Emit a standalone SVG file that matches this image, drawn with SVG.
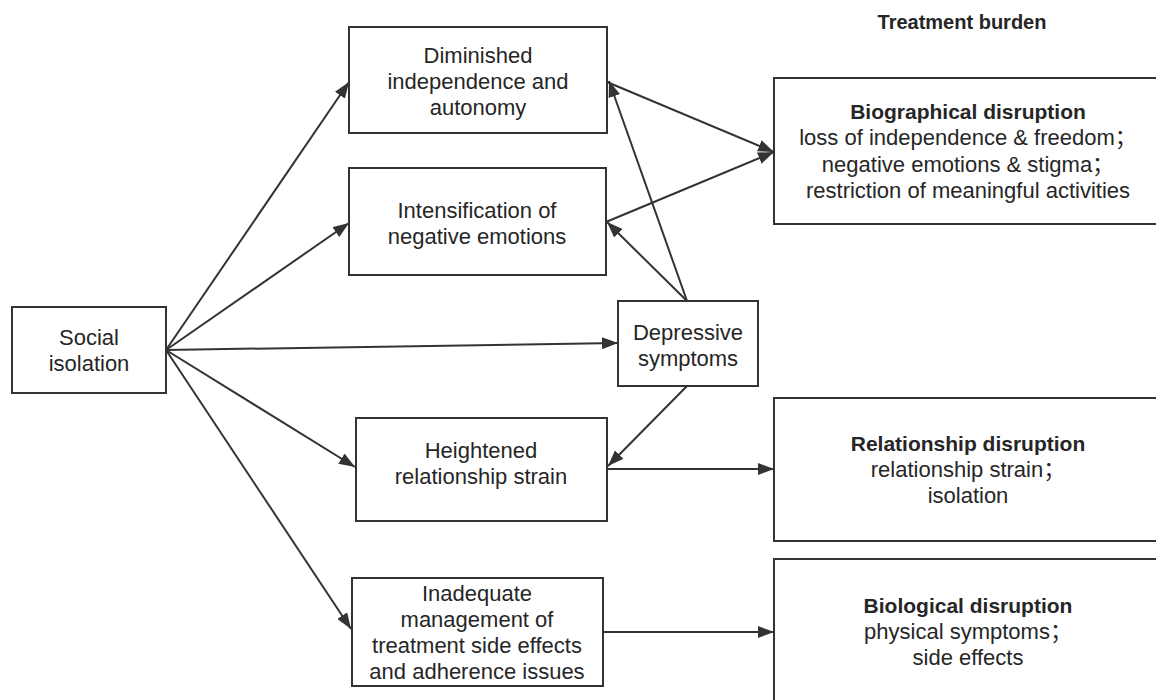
<svg xmlns="http://www.w3.org/2000/svg" width="1156" height="700" viewBox="0 0 1156 700">
<style>
.box{fill:#fff;stroke:#333;stroke-width:2}
.t{font-family:"Liberation Sans","Noto Sans CJK SC",sans-serif;font-size:22px;fill:#262626;text-anchor:middle}
.b{font-weight:bold;font-size:21px}
.c{stroke:#333;stroke-width:2;fill:none;marker-end:url(#ah)}
</style>
<defs>
<marker id="ah" markerUnits="userSpaceOnUse" markerWidth="16" markerHeight="12" refX="16" refY="6" orient="auto">
<path d="M0,0 L16,6 L0,12 z" fill="#333"/>
</marker>
</defs>
<rect width="1156" height="700" fill="#fff"/>
<g id="connectors">
<line class="c" x1="166" y1="350" x2="349" y2="82"/>
<line class="c" x1="166" y1="350" x2="349" y2="223"/>
<line class="c" x1="166" y1="350" x2="618" y2="343"/>
<line class="c" x1="166" y1="350" x2="355" y2="467"/>
<line class="c" x1="166" y1="350" x2="351" y2="629"/>
<line class="c" x1="607" y1="82" x2="774" y2="152"/>
<line class="c" x1="606" y1="222" x2="774" y2="152"/>
<line class="c" x1="687" y1="301" x2="609" y2="81"/>
<line class="c" x1="687" y1="301" x2="607" y2="222"/>
<line class="c" x1="687" y1="386" x2="608" y2="466"/>
<line class="c" x1="607" y1="469" x2="774" y2="469"/>
<line class="c" x1="603" y1="632" x2="774" y2="632"/>
</g>
<g id="title">
<text class="t b" x="962" y="29" style="font-size:20px">Treatment burden</text>
</g>
<g id="social">
<rect class="box" x="12" y="307" width="154" height="86"/>
<text class="t" x="89" y="345">Social</text>
<text class="t" x="89" y="371">isolation</text>
</g>
<g id="diminished">
<rect class="box" x="349" y="27" width="258" height="106"/>
<text class="t" x="478" y="63">Diminished</text>
<text class="t" x="478" y="89">independence and</text>
<text class="t" x="478" y="115">autonomy</text>
</g>
<g id="intensification">
<rect class="box" x="349" y="168" width="257" height="107"/>
<text class="t" x="477" y="218">Intensification of</text>
<text class="t" x="477" y="244">negative emotions</text>
</g>
<g id="depressive">
<rect class="box" x="618" y="301" width="140" height="85"/>
<text class="t" x="688" y="340">Depressive</text>
<text class="t" x="688" y="366">symptoms</text>
</g>
<g id="heightened">
<rect class="box" x="356" y="418" width="251" height="103"/>
<text class="t" x="481" y="458">Heightened</text>
<text class="t" x="481" y="484">relationship strain</text>
</g>
<g id="inadequate">
<rect class="box" x="352" y="578" width="251" height="108"/>
<text class="t" x="477" y="601">Inadequate</text>
<text class="t" x="477" y="627">management of</text>
<text class="t" x="477" y="653">treatment side effects</text>
<text class="t" x="477" y="679">and adherence issues</text>
</g>
<g id="biographical">
<rect class="box" x="774" y="78" width="392" height="146"/>
<text class="t b" x="968" y="119">Biographical disruption</text>
<text class="t" x="968" y="145">loss of independence &amp; freedom；</text>
<text class="t" x="968" y="172">negative emotions &amp; stigma；</text>
<text class="t" x="968" y="198">restriction of meaningful activities</text>
</g>
<g id="relationship">
<rect class="box" x="774" y="398" width="392" height="143"/>
<text class="t b" x="968" y="451">Relationship disruption</text>
<text class="t" x="968" y="477">relationship strain；</text>
<text class="t" x="968" y="503">isolation</text>
</g>
<g id="biological">
<rect class="box" x="774" y="559" width="392" height="160"/>
<text class="t b" x="968" y="613">Biological disruption</text>
<text class="t" x="968" y="639">physical symptoms；</text>
<text class="t" x="968" y="665">side effects</text>
</g>
</svg>
